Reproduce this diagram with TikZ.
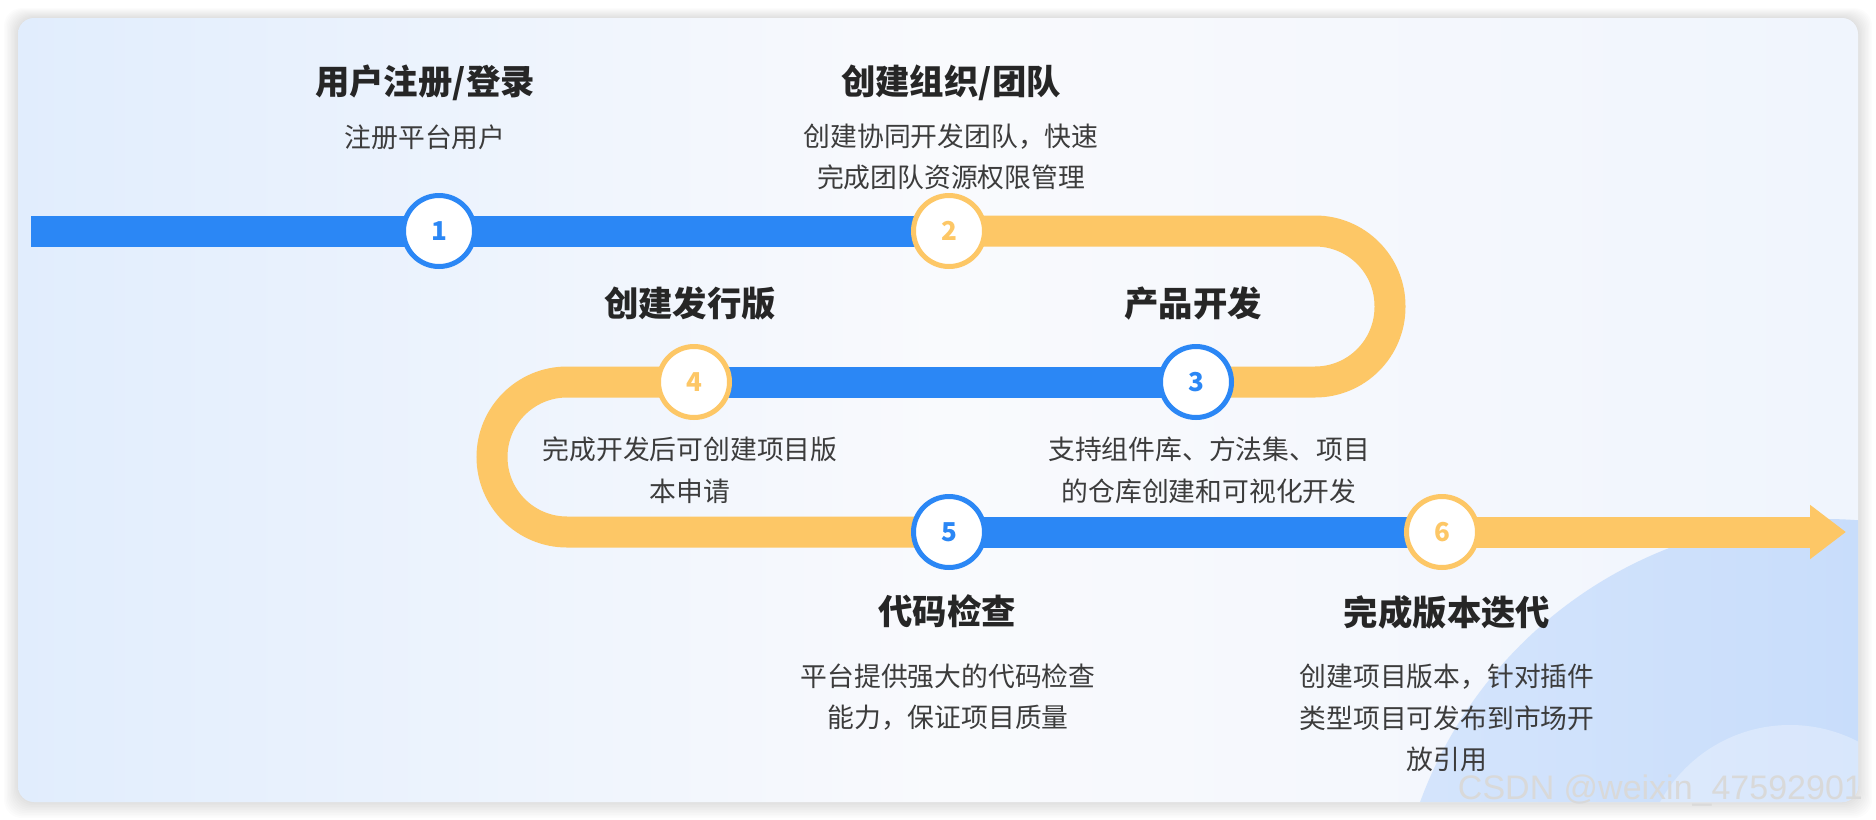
\documentclass[tikz,border=0pt]{standalone}
\usepackage{fontspec}
\setmainfont{Noto Sans CJK SC}
\newfontfamily\markfont{Liberation Sans}
\usetikzlibrary{arrows.meta,backgrounds}
\definecolor{stepblue}{HTML}{2B87F5}
\definecolor{stepgold}{HTML}{FDC766}
\definecolor{stepink}{HTML}{262626}
\definecolor{cardleft}{HTML}{E1EDFD}
\definecolor{cardmid}{HTML}{F9FAFD}
\definecolor{cardright}{HTML}{F0F5FD}
\definecolor{blobleft}{HTML}{D5E5FC}
\definecolor{blobright}{HTML}{BDD6FA}

\begin{document}
\begin{tikzpicture}[x=.5pt,y=-.5pt,
    stepdot/.style={circle,draw=#1,fill=white,line width=2.5pt,inner sep=0pt,
      minimum size=35.5pt,text=#1,font=\fontsize{13}{14}\selectfont\bfseries},
    steptitle/.style={text=stepink,font=\fontsize{17.2}{20}\selectfont\bfseries},
    stepnote/.style={text=stepink!90,align=center,font=\fontsize{13.4}{20.8}\selectfont},
    bluerun/.style={stepblue,line width=15.5pt},
    goldrun/.style={stepgold,line width=15.5pt,rounded corners=37.5pt}]
  \useasboundingbox (0,0) rectangle (1876,820);

  \begin{scope}[on background layer]
    \foreach \i in {1,...,10}
      \fill[black,opacity=.012,rounded corners=9pt]
        (18-1.4*\i,18-\i) rectangle (1858+1.4*\i,802+1.6*\i);
    \shade[rounded corners=8pt,left color=cardleft,right color=cardright,middle color=cardmid]
      (18,18) rectangle (1858,802);
    \begin{scope}
      \clip[rounded corners=8pt] (18,18) rectangle (1858,802);
      \shade[left color=blobleft,right color=blobright] (1825,950) circle[radius=431];
      \fill[white,opacity=.3] (1790,873) circle[radius=148];
    \end{scope}
  \end{scope}

  \node[stepdot=stepblue] (c1) at (439,231) {1};
  \node[stepdot=stepgold] (c2) at (949,231) {2};
  \node[stepdot=stepblue] (c3) at (1196,382) {3};
  \node[stepdot=stepgold] (c4) at (694,382) {4};
  \node[stepdot=stepblue] (c5) at (949,532) {5};
  \node[stepdot=stepgold] (c6) at (1442,532) {6};
  \coordinate (lead) at (31,231);
  \coordinate (tip) at (1846,532);

  \begin{scope}[on background layer]
    \draw[bluerun] (lead) -- (c1.center) -- (c2.center);
    \draw[goldrun] (c2.center) -- (1390,231) -- (1390,382) -- (c3.center);
    \draw[bluerun] (c3.center) -- (c4.center);
    \draw[goldrun] (c4.center) -- (492,382) -- (492,532) -- (c5.center);
    \draw[bluerun] (c5.center) -- (c6.center);
    \draw[goldrun,-{Triangle[length=18pt,width=26pt]}] (c6.center) -- (tip);
  \end{scope}

  \node[steptitle] (t1) at (425,83) {用户注册/登录};
  \node[stepnote] (n1) at (425,137) {注册平台用户};

  \node[steptitle] (t2) at (951,83) {创建组织/团队};
  \node[stepnote] (n2) at (951,157) {创建协同开发团队，快速\\完成团队资源权限管理};

  \node[steptitle] (t3) at (1193,304) {产品开发};
  \node[stepnote] (n3) at (1209,470) {支持组件库、方法集、项目\\的仓库创建和可视化开发};

  \node[steptitle] (t4) at (690,304) {创建发行版};
  \node[stepnote] (n4) at (690,470) {完成开发后可创建项目版\\本申请};

  \node[steptitle] (t5) at (947,611) {代码检查};
  \node[stepnote] (n5) at (948,697) {平台提供强大的代码检查\\能力，保证项目质量};

  \node[steptitle] (t6) at (1447,612) {完成版本迭代};
  \node[stepnote] (n6) at (1447,718) {创建项目版本，针对插件\\类型项目可发布到市场开\\放引用};

  \node[anchor=base east,text=black!15,font=\markfont\fontsize{17}{20}\selectfont]
    (mark) at (1870,799) {CSDN @weixin\_47592901};
\end{tikzpicture}
\end{document}
